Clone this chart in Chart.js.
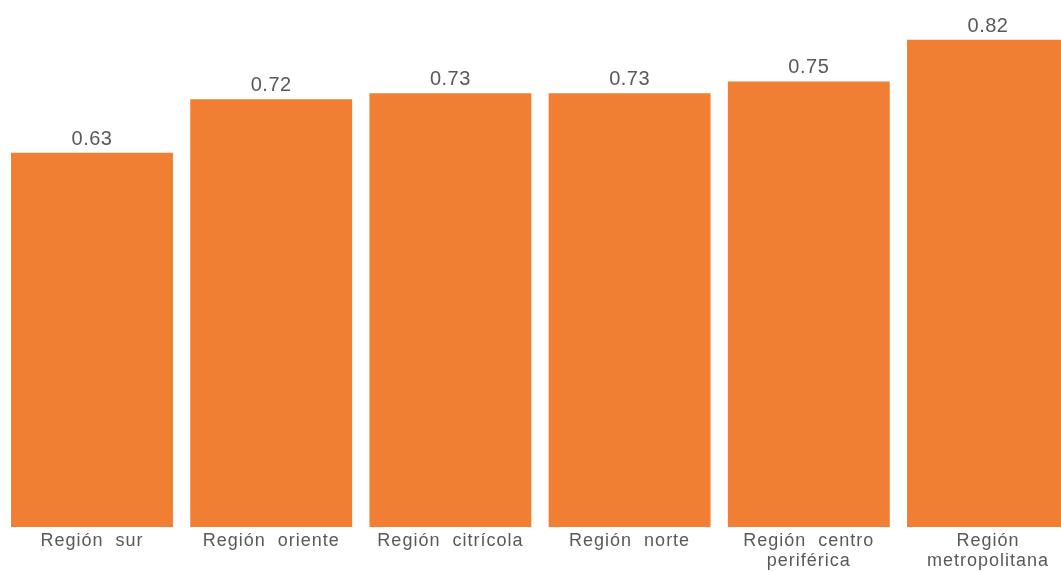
<!DOCTYPE html>
<html>
<head>
<meta charset="utf-8">
<script src="https://cdn.jsdelivr.net/npm/chart.js@4/dist/chart.umd.min.js"></script>
<style>
  html, body { margin: 0; padding: 0; background: #fff; overflow: hidden; }
</style>
</head>
<body>
<canvas id="canvas1" width="1080" height="572"></canvas>
<script>
var categories = [
    ['Región  sur'],
    ['Región  oriente'],
    ['Región  citrícola'],
    ['Región  norte'],
    ['Región  centro', 'periférica'],
    ['Región', 'metropolitana']
];
var values = [0.63, 0.72, 0.73, 0.73, 0.75, 0.82];

var textColor = '#595959';
var barColor = '#F07E33';

// draws the value above each bar
var valueLabels = {
    id: 'valueLabels',
    beforeDraw: function(chart) {
        chart.ctx.letterSpacing = '1px';
    },
    afterDatasetsDraw: function(chart) {
        var ctx = chart.ctx;
        var meta = chart.getDatasetMeta(0);
        ctx.save();
        ctx.letterSpacing = '0.5px';
        ctx.font = '20px "Liberation Sans", Arial, sans-serif';
        ctx.fillStyle = textColor;
        ctx.textAlign = 'center';
        ctx.textBaseline = 'alphabetic';
        meta.data.forEach(function(bar, i) {
            ctx.fillText(values[i].toFixed(2), bar.x, bar.y - 8);
        });
        ctx.restore();
    }
};

var config1 = {
    type: 'bar',
    data: {
        labels: categories,
        datasets: [{
            data: values,
            backgroundColor: barColor,
            borderWidth: 0,
            barPercentage: 0.9035,
            categoryPercentage: 1
        }]
    },
    options: {
        responsive: false,
        animation: false,
        devicePixelRatio: 1,
        layout: {
            padding: { left: 2.4, right: 2.4, top: 0, bottom: -3 }
        },
        plugins: {
            legend: { display: false },
            title: { display: false },
            tooltip: { enabled: false }
        },
        scales: {
            x: {
                grid: { display: false, drawTicks: false },
                border: { display: false },
                ticks: {
                    color: textColor,
                    padding: 4,
                    autoSkip: false,
                    maxRotation: 0,
                    font: { family: '"Liberation Sans", Arial, sans-serif', size: 18, lineHeight: '20px' }
                }
            },
            y: {
                display: false,
                min: 0,
                max: 0.887
            }
        }
    },
    plugins: [valueLabels]
};

var ctx = document.getElementById('canvas1').getContext('2d');
window.myBar = new Chart(ctx, config1);
</script>
</body>
</html>
